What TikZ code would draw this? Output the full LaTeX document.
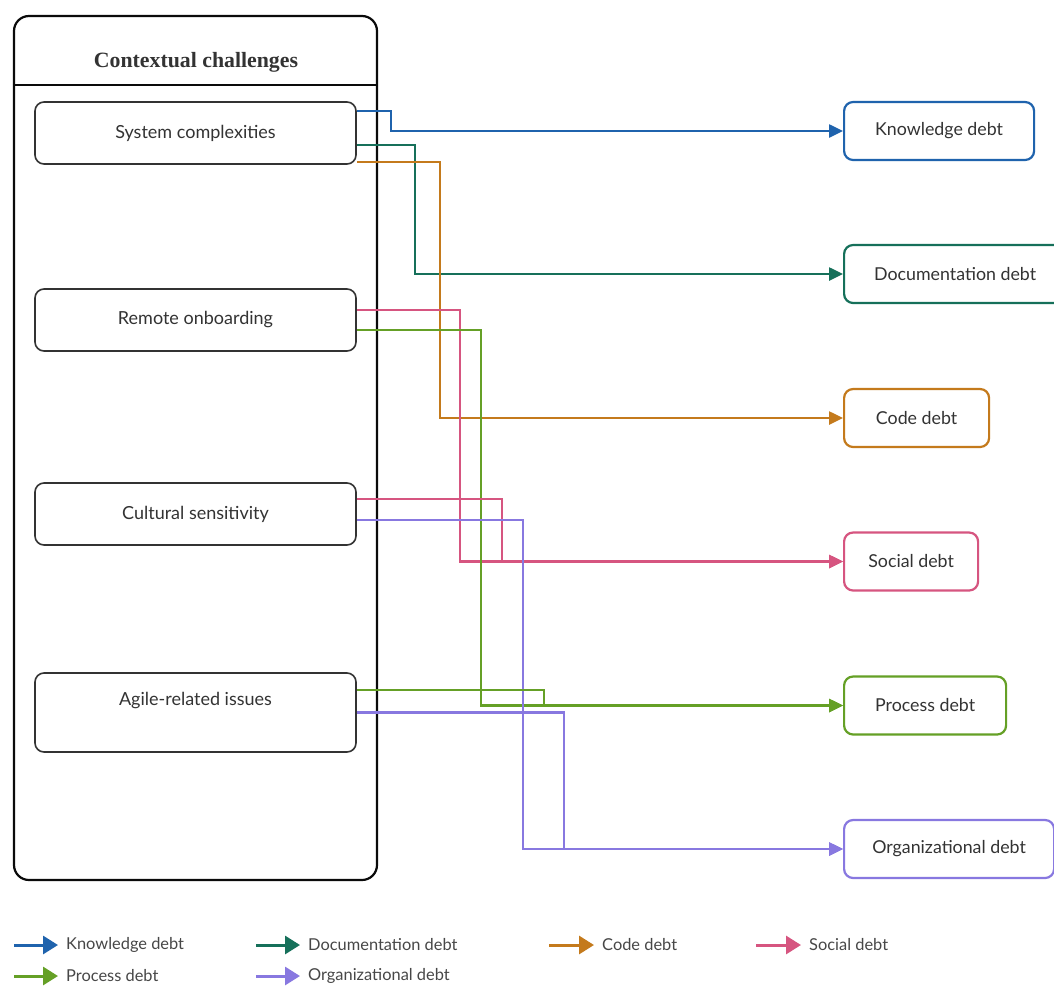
\documentclass[tikz,border=0pt]{standalone}
\usepackage{fontspec}
\setmainfont{Liberation Serif}
\setsansfont{Lato}
\usetikzlibrary{arrows.meta,positioning}

\definecolor{knowc}{HTML}{1F63AD}
\definecolor{docc}{HTML}{16705A}
\definecolor{codec}{HTML}{C47A1C}
\definecolor{socc}{HTML}{D65580}
\definecolor{procc}{HTML}{65A026}
\definecolor{orgc}{HTML}{8878E0}
\definecolor{inkc}{HTML}{333333}

\begin{document}
\begin{tikzpicture}[x=1pt,y=-1pt,
  ctx node/.style={draw=inkc!120,line width=2.2pt,rounded corners=15pt,minimum width=363pt,minimum height=864pt},
  ch node/.style={draw=inkc,line width=1.6pt,rounded corners=9pt,minimum width=321pt,minimum height=62pt,
    font=\sffamily\fontsize{18}{21}\selectfont,text=inkc},
  debt node/.style={line width=2.2pt,rounded corners=9pt,minimum height=58pt,anchor=west,
    font=\sffamily\fontsize{17.8}{21}\selectfont,text=inkc},
  link/.style={line width=2.5pt,-{Triangle[length=14pt,width=13pt]}},
  legend text/.style={anchor=west,inner sep=0pt,font=\sffamily\fontsize{16.4}{19}\selectfont,text=inkc!90},
  legend arrow/.style={line width=3pt,shorten >=8pt,-{Triangle[length=15pt,width=18pt]}}]

  \useasboundingbox (0,0) rectangle (1054,985);
  \fill[white] (0,0) rectangle (1054,985);

  % challenges
  \node[ctx node] (ctx) at (195.5,448) {};
  \node[font=\bfseries\fontsize{21.8}{25}\selectfont,text=inkc] (ctxtitle) at (196,62) {Contextual challenges};
  \draw[inkc!120,line width=2pt] (ctx.west |- 0,85) -- (ctx.east |- 0,85);

  \node[ch node] (sys) at (195.5,133) {System complexities};
  \node[ch node] (remote) at (195.5,320) {Remote onboarding};
  \node[ch node] (cult) at (195.5,514) {Cultural sensitivity};
  \node[ch node,minimum height=79pt,text depth=28pt] (agile) at (195.5,712.5) {Agile-related issues};

  % debts
  \node[debt node,draw=knowc,minimum width=190pt] (know) at (843,131) {Knowledge debt};
  \node[debt node,draw=docc,minimum width=222pt] (doc) at (843,274) {Documentation debt};
  \node[debt node,draw=codec,minimum width=145pt] (code) at (843,418) {Code debt};
  \node[debt node,draw=socc,minimum width=134pt] (soc) at (843,561.5) {Social debt};
  \node[debt node,draw=procc,minimum width=162pt] (proc) at (843,705.5) {Process debt};
  \node[debt node,draw=orgc,minimum width=210pt] (org) at (843,849) {Organizational debt};

  % links
  \draw[link,knowc] ([yshift=22pt]sys.east) -- ++(34,0) |- (know.west);
  \draw[link,docc] ([yshift=-12pt]sys.east) -- ++(58,0) |- (doc.west);
  \draw[link,codec] ([yshift=-29pt]sys.east) -- ++(83,0) |- (code.west);
  \draw[link,socc] ([yshift=10pt]remote.east) -- ++(103,0) |- (soc.west);
  \draw[link,procc] ([yshift=-10pt]remote.east) -- ++(124,0) |- (proc.west);
  \draw[link,socc] ([yshift=15pt]cult.east) -- ++(145,0) |- (soc.west);
  \draw[link,orgc] ([yshift=-6pt]cult.east) -- ++(166,0) |- (org.west);
  \draw[link,procc] ([yshift=22.5pt]agile.east) -- ++(187,0) |- (proc.west);
  \draw[link,orgc] (agile.east) -- ++(207,0) |- (org.west);

  % legend
  \coordinate (lgknows) at (14,945);
  \coordinate (lgdocs) at (256,945);
  \coordinate (lgcodes) at (549,945);
  \coordinate (lgsocs) at (756,945);
  \coordinate (lgprocs) at (14,976);
  \coordinate (lgorgs) at (256,976);
  \node[legend text] (lgknow) at (66,945) {Knowledge debt};
  \node[legend text] (lgdoc) at (308,945) {Documentation debt};
  \node[legend text] (lgcode) at (602,945) {Code debt};
  \node[legend text] (lgsoc) at (809,945) {Social debt};
  \node[legend text] (lgproc) at (66,976) {Process debt};
  \node[legend text] (lgorg) at (308,976) {Organizational debt};
  \draw[legend arrow,knowc] (lgknows) -- (lgknow.west);
  \draw[legend arrow,docc] (lgdocs) -- (lgdoc.west);
  \draw[legend arrow,codec] (lgcodes) -- (lgcode.west);
  \draw[legend arrow,socc] (lgsocs) -- (lgsoc.west);
  \draw[legend arrow,procc] (lgprocs) -- (lgproc.west);
  \draw[legend arrow,orgc] (lgorgs) -- (lgorg.west);
\end{tikzpicture}
\end{document}
